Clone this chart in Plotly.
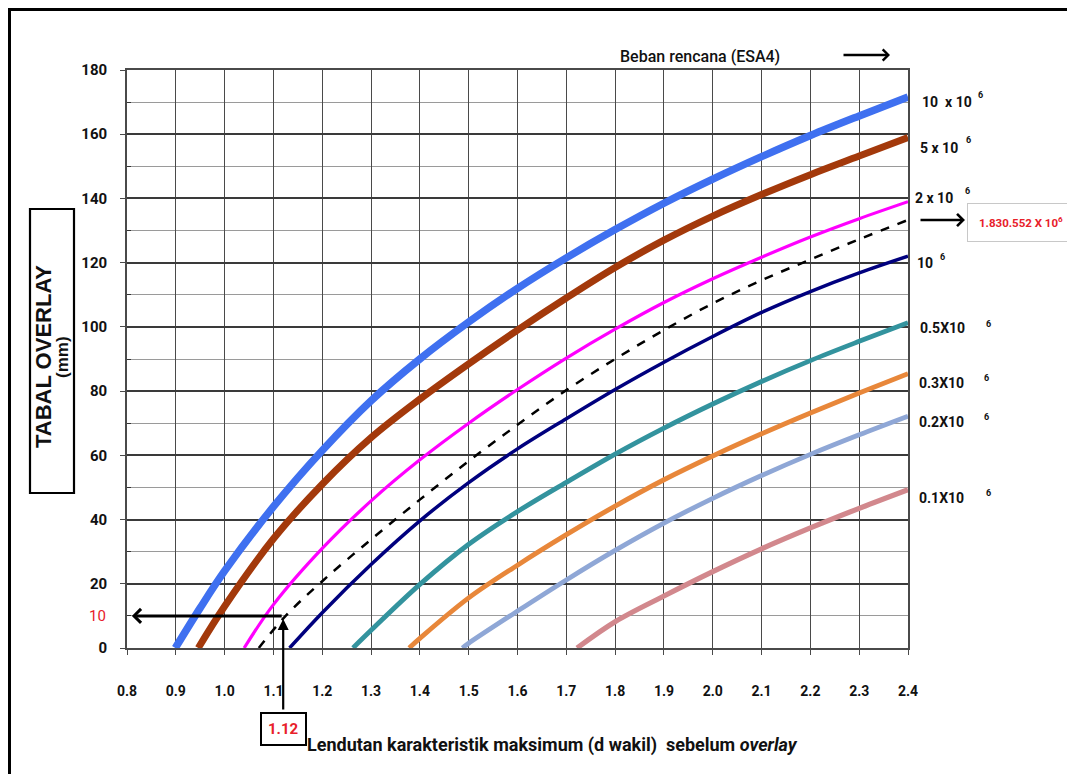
import plotly.graph_objects as go

# ---------------- data ----------------
x_ticks = [0.8, 0.9, 1.0, 1.1, 1.2, 1.3, 1.4, 1.5, 1.6, 1.7, 1.8, 1.9, 2.0, 2.1, 2.2, 2.3, 2.4]
x_ticktext = ["0.8", "0.9", "1.0", "1.1", "1.2", "1.3", "1.4", "1.5", "1.6", "1.7",
              "1.8", "1.9", "2.0", "2.1", "2.2", "2.3", "2.4"]
y_ticks = [0, 20, 40, 60, 80, 100, 120, 140, 160, 180]
y_minor = [10, 30, 50, 70, 90, 110, 130, 150, 170]

x_10e6 = [0.899, 0.95, 1.0, 1.1, 1.2, 1.3, 1.4, 1.5, 1.6, 1.7, 1.8, 1.9, 2.0, 2.1, 2.2, 2.3, 2.4]
y_10e6 = [0, 12.5, 24, 44, 61.5, 77, 90, 101.5, 112, 121.5, 130.3, 138.5, 146, 153, 159.6, 165.7, 171.6]

x_5e6 = [0.946, 1.0, 1.1, 1.2, 1.3, 1.4, 1.5, 1.6, 1.7, 1.8, 1.9, 2.0, 2.1, 2.2, 2.3, 2.4]
y_5e6 = [0, 13, 34, 51, 65.5, 77.5, 88.5, 99, 109, 118.5, 127, 134.5, 141.2, 147.4, 153.2, 159]

x_2e6 = [1.04, 1.1, 1.2, 1.3, 1.4, 1.5, 1.6, 1.7, 1.8, 1.9, 2.0, 2.1, 2.2, 2.3, 2.4]
y_2e6 = [0, 13.5, 31, 45.8, 58.6, 70, 80.5, 90.3, 99.3, 107.6, 115, 121.7, 128, 133.7, 139]

x_design = [1.07, 1.125, 1.2, 1.3, 1.4, 1.5, 1.6, 1.7, 1.8, 1.9, 2.0, 2.1, 2.2, 2.3, 2.4]
y_design = [0, 10, 20.8, 33.8, 46.2, 58.2, 69.5, 80.3, 90, 99, 107.3, 114.5, 121, 127.3, 133.3]

x_1e6 = [1.133, 1.2, 1.3, 1.4, 1.5, 1.6, 1.7, 1.8, 1.9, 2.0, 2.1, 2.2, 2.3, 2.4]
y_1e6 = [0, 11, 26, 39.6, 51.5, 62, 71.4, 80.5, 89, 97, 104.5, 111, 116.8, 122]

x_05e6 = [1.263, 1.3, 1.4, 1.5, 1.6, 1.7, 1.8, 1.9, 2.0, 2.1, 2.2, 2.3, 2.4]
y_05e6 = [0, 5.5, 19.8, 32.3, 42.5, 51.6, 60.4, 68.5, 76, 83, 89.5, 95.5, 101.3]

x_03e6 = [1.378, 1.4, 1.5, 1.6, 1.7, 1.8, 1.9, 2.0, 2.1, 2.2, 2.3, 2.4]
y_03e6 = [0, 3, 15.6, 25.8, 35.3, 44.2, 52.4, 59.8, 66.7, 73.2, 79.4, 85.4]

x_02e6 = [1.487, 1.5, 1.6, 1.7, 1.8, 1.9, 2.0, 2.1, 2.2, 2.3, 2.4]
y_02e6 = [0, 1.5, 11.5, 21.2, 30.4, 38.9, 46.6, 53.7, 60.3, 66.4, 72.2]

x_01e6 = [1.722, 1.8, 1.9, 2.0, 2.1, 2.2, 2.3, 2.4]
y_01e6 = [0, 8.2, 16.2, 23.8, 30.9, 37.4, 43.5, 49.3]

reading_x = 1.12
reading_y = 10
reading_x_label = "1.12"
reading_y_label = "10"
design_label = "1.830.552 X 10<sup>6</sup>"

curve_labels = ["10  x 10", "5 x 10", "2 x 10", "10", "0.5X10", "0.3X10", "0.2X10", "0.1X10"]

# ---------------- style ----------------
NARROW = "Roboto, Liberation Sans, sans-serif"
WIDE = "Liberation Sans, Arial, sans-serif"

series = [
    (x_10e6, y_10e6, "#3F70F0", 7.5, "solid"),
    (x_5e6, y_5e6, "#A3390B", 7, "solid"),
    (x_2e6, y_2e6, "#FF00FF", 3.2, "solid"),
    (x_design, y_design, "#000000", 2.5, "dash"),
    (x_1e6, y_1e6, "#00007E", 3.5, "solid"),
    (x_05e6, y_05e6, "#33939E", 4.8, "solid"),
    (x_03e6, y_03e6, "#E8873A", 4.8, "solid"),
    (x_02e6, y_02e6, "#8FA7D6", 4.8, "solid"),
    (x_01e6, y_01e6, "#D2888D", 5.2, "solid"),
]

fig = go.Figure()
for xs, ys, col, w, dash in series:
    fig.add_trace(go.Scatter(x=xs, y=ys, mode="lines", cliponaxis=False,
                             line=dict(color=col, width=w, dash=dash, shape="spline", smoothing=1.0),
                             showlegend=False, hoverinfo="skip"))

OFF = 8  # page offset of the figure inside the browser window
L, T = 127 - OFF, 70 - OFF
PW, PH = 781, 578
W, H = 1075 - OFF, 774 - OFF
R, B = W - L - PW, H - T - PH


def px(x):
    return (x - OFF - L) / PW


def py(y):
    return (T + PH - (y - OFF)) / PH


ann = []
lab_pos = [(920, 102), (918, 148), (913, 198), (915, 263), (918, 328), (917, 383), (917, 422), (917, 498)]
sup_pos = [(980, 95), (968, 140), (967, 191), (942, 257), (988, 324), (987, 378), (987, 417), (988, 493)]
for t, (lx, ly), (sx, sy) in zip(curve_labels, lab_pos, sup_pos):
    ann.append(dict(xref="paper", yref="paper", x=px(lx), y=py(ly), text=t, showarrow=False,
                    xanchor="left", yanchor="middle",
                    font=dict(family=NARROW, size=14, color="#111", weight="bold")))
    ann.append(dict(xref="paper", yref="paper", x=px(sx), y=py(sy), text="6", showarrow=False,
                    xanchor="center", yanchor="middle",
                    font=dict(family=NARROW, size=9, color="#111", weight="bold")))

# design load box + arrow
ann.append(dict(xref="paper", yref="paper", x=px(965), y=py(220), ax=-46, ay=0, text="",
                showarrow=True, arrowhead=4, arrowsize=0.9, arrowwidth=2.6, arrowcolor="#000"))
ann.append(dict(xref="paper", yref="paper", x=px(967), y=py(223), text=design_label, showarrow=False,
                xanchor="left", yanchor="middle", bordercolor="#c8c8c8", borderwidth=1, borderpad=11,
                bgcolor="white", font=dict(family=NARROW, size=11.5, color="#E8202A", weight="bold")))

# Beban rencana header and arrow
ann.append(dict(xref="paper", yref="paper", x=px(700), y=py(56), text="Beban rencana (ESA4)", showarrow=False,
                xanchor="center", yanchor="middle",
                font=dict(family=NARROW, size=16, color="#111", weight=500)))
ann.append(dict(xref="paper", yref="paper", x=px(890), y=py(55), ax=-48, ay=0, text="",
                showarrow=True, arrowhead=4, arrowsize=0.9, arrowwidth=2.4, arrowcolor="#000"))

# reading arrows
ann.append(dict(xref="x", yref="y", x=0.81, y=reading_y, axref="x", ayref="y", ax=reading_x, ay=reading_y,
                text="", showarrow=True, arrowhead=4, arrowsize=0.9, arrowwidth=3, arrowcolor="#000"))
ann.append(dict(xref="x", yref="y", x=reading_x, y=reading_y, ax=0, ay=95, text="", standoff=3,
                showarrow=True, arrowhead=2, arrowsize=1, arrowwidth=2.2, arrowcolor="#000"))
ann.append(dict(xref="x", yref="paper", x=reading_x, y=py(729), text=reading_x_label, showarrow=False,
                xanchor="center", yanchor="middle", bordercolor="#000", borderwidth=2, borderpad=6,
                bgcolor="white", font=dict(family=NARROW, size=15, color="#E8202A", weight="bold")))
ann.append(dict(xref="paper", yref="y", x=px(108), y=reading_y, text=reading_y_label, showarrow=False,
                xanchor="right", yanchor="middle",
                font=dict(family=NARROW, size=15, color="#E8202A")))

# x title
ann.append(dict(xref="paper", yref="paper", x=px(305), y=py(745),
                text="Lendutan karakteristik maksimum (d wakil)  sebelum <i>overlay</i>", showarrow=False,
                xanchor="left", yanchor="middle",
                font=dict(family=NARROW, size=18, color="#111", weight="bold")))

# y title
ann.append(dict(xref="paper", yref="paper", x=px(44), y=py(357), text="TABAL OVERLAY", textangle=-90,
                showarrow=False, xanchor="center", yanchor="middle",
                font=dict(family=WIDE, size=22, color="#111", weight="bold")))
ann.append(dict(xref="paper", yref="paper", x=px(63), y=py(357), text="(mm)", textangle=-90,
                showarrow=False, xanchor="center", yanchor="middle",
                font=dict(family=WIDE, size=17, color="#111", weight="bold")))

shapes = [
    dict(type="rect", xref="paper", yref="paper", x0=px(30), x1=px(74), y0=py(493), y1=py(209),
         line=dict(color="#000", width=2.2)),
    dict(type="line", xref="paper", yref="paper", x0=px(9.5), x1=px(9.5), y0=py(8), y1=py(790),
         line=dict(color="#000", width=3)),
    dict(type="line", xref="paper", yref="paper", x0=px(8), x1=px(1090), y0=py(9.5), y1=py(9.5),
         line=dict(color="#000", width=3)),
]

fig.update_layout(
    width=W, height=H,
    margin=dict(l=L, r=R, t=T, b=B, pad=0),
    paper_bgcolor="white", plot_bgcolor="white",
    annotations=ann, shapes=shapes,
    xaxis=dict(range=[0.8, 2.4], tickvals=x_ticks, ticktext=x_ticktext,
               showgrid=True, gridcolor="#4a4a4a", gridwidth=1.3, zeroline=False,
               showline=True, linecolor="#4a4a4a", linewidth=1.6, mirror=True,
               ticks="outside", ticklen=5, tickcolor="#4a4a4a", ticklabelstandoff=24,
               tickfont=dict(family=NARROW, size=14, color="#111", weight="bold")),
    yaxis=dict(range=[0, 180], tickvals=y_ticks,
               showgrid=True, gridcolor="#3a3a3a", gridwidth=1.5, zeroline=False,
               showline=True, linecolor="#4a4a4a", linewidth=1.6, mirror=True,
               ticks="outside", ticklen=5, tickcolor="#4a4a4a", ticklabelstandoff=10,
               tickfont=dict(family=NARROW, size=15, color="#111", weight="bold"),
               minor=dict(tickvals=y_minor, showgrid=True, gridcolor="#9a9a9a", gridwidth=1.3,
                          ticks="inside", ticklen=4, tickcolor="#333")),
)

fig.write_html("out.html")
